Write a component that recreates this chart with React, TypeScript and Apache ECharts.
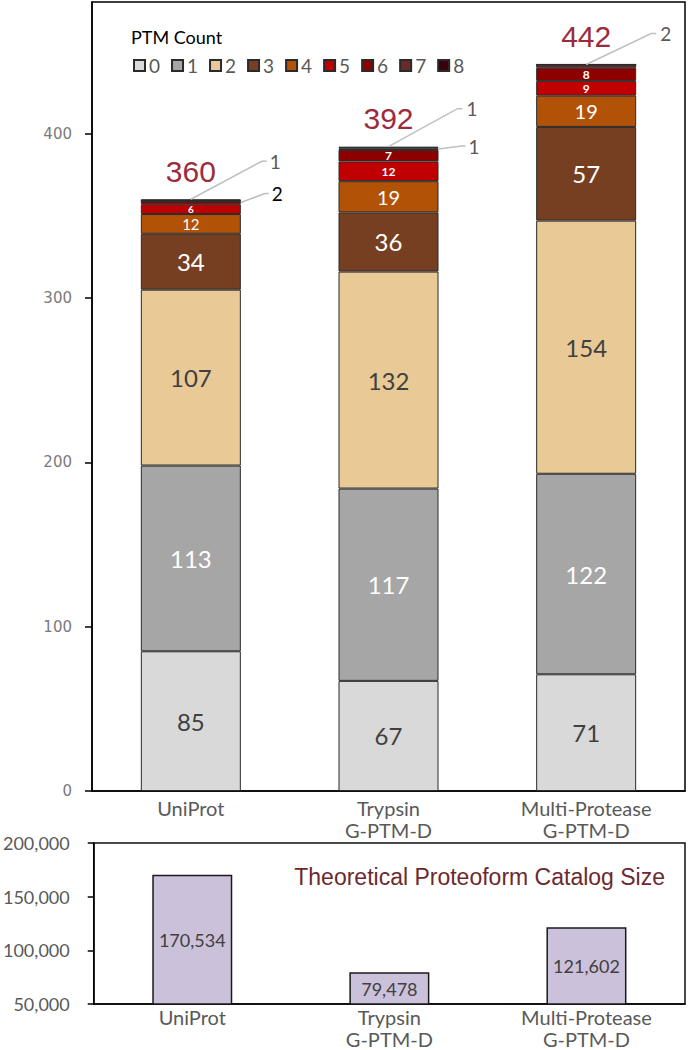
import React, { useEffect, useRef } from 'react';
import * as echarts from 'echarts';

// ---------- data ----------
const categories = ['UniProt', 'Trypsin\nG-PTM-D', 'Multi-Protease\nG-PTM-D'];
const ptmLevels = ['0', '1', '2', '3', '4', '5', '6', '7', '8'];
const ptm0 = [85, 67, 71];
const ptm1 = [113, 117, 122];
const ptm2 = [107, 132, 154];
const ptm3 = [34, 36, 57];
const ptm4 = [12, 19, 19];
const ptm5 = [6, 12, 9];
const ptm6 = [2, 7, 8];
const ptm7 = [0, 1, 2];
const ptm8 = [1, 1, 0];
const ptmValues = [ptm0, ptm1, ptm2, ptm3, ptm4, ptm5, ptm6, ptm7, ptm8];
const totals = [360, 392, 442];
const topTicks = [0, 100, 200, 300, 400];
const catalogSize = [170534, 79478, 121602];
// segments labelled outside the bar with a leader line: [category index], [PTM level]
const calloutCategory = [0, 0, 1, 1, 2];
const calloutLevel = [8, 6, 8, 7, 7];

// ---------- styles ----------
const LEVEL_COLORS = ['#D9D9D9', '#A6A6A6', '#E9C995', '#773F22', '#B15207', '#C00000', '#8E0000', '#6B2A2A', '#3A0010'];
const LABEL_COLORS = ['#404040', '#FFFFFF', '#404040', '#FFFFFF', '#FFFFFF', '#FFFFFF', '#FFFFFF', '#FFFFFF', '#FFFFFF'];
const BAR_W = 100;
const CALLOUT_GEOM = [
  { anchor: 'top', lx: 71, ly: -38, hx: 76, tx: 79, color: '#595959' },
  { anchor: 'right', lx: 24, ly: -9, hx: 28, tx: 31, color: '#000000' },
  { anchor: 'top', lx: 69, ly: -38, hx: 74, tx: 78, color: '#595959' },
  { anchor: 'right', lx: 23, ly: -3, hx: 27, tx: 30, color: '#595959' },
  { anchor: 'top', lx: 65, ly: -31, hx: 70, tx: 74, color: '#595959' },
];

const isCallout = (c: number, l: number) =>
  calloutCategory.some((cc, i) => cc === c && calloutLevel[i] === l);
const labelSize = (l: number, v: number) =>
  l <= 3 ? 24 : l === 4 ? (v >= 15 ? 20 : 15) : v >= 7 ? 12 : 10;
const fmt = (v: number) => v.toLocaleString('en-US');

export default function App() {
  const ref = useRef<HTMLDivElement>(null);
  useEffect(() => {
    if (!ref.current) return;
    const chart = echarts.init(ref.current, undefined, { renderer: 'svg' });

    const ptmSeries = ptmValues.map((vals, l) => ({
      name: ptmLevels[l],
      type: 'bar',
      stack: 'ptm',
      xAxisIndex: 0,
      yAxisIndex: 0,
      barWidth: BAR_W,
      itemStyle: { color: LEVEL_COLORS[l], borderColor: '#2a2a2a', borderWidth: 1 },
      label: {
        show: true,
        position: 'inside',
        color: LABEL_COLORS[l],
        fontFamily: 'Lato',
        fontWeight: l >= 5 ? 'bold' : 'normal',
      },
      data: vals.map((v, c) => ({
        value: v,
        label: {
          show: v > 0 && !isCallout(c, l),
          fontSize: labelSize(l, v),
          lineHeight: labelSize(l, v),
        },
      })),
    }));

    const option: any = {
      animation: false,
      title: [
        {
          text: 'PTM Count',
          left: 131,
          top: 28,
          padding: 0,
          textStyle: { fontFamily: 'Lato', fontSize: 18, fontWeight: 'normal', color: '#000' },
        },
        {
          text: 'Theoretical Proteoform Catalog Size',
          right: 23,
          top: 865,
          padding: 0,
          textStyle: { fontFamily: 'Liberation Sans', fontSize: 23, fontWeight: 'normal', color: '#6B2A2F' },
        },
      ],
      legend: {
        data: ptmLevels,
        left: 133,
        top: 56,
        padding: 0,
        icon: 'rect',
        itemWidth: 11,
        itemHeight: 11,
        itemGap: 11,
        textStyle: { fontFamily: 'Lato', fontSize: 19, color: '#595959', padding: [0, 0, 0, -1] },
      },
      grid: [
        { left: 92, right: 3, top: 2, height: 789, show: true, borderColor: '#000', borderWidth: 1.5 },
        { left: 92, right: 3, top: 843, height: 161, show: true, borderColor: '#111', borderWidth: 1.5 },
      ],
      xAxis: [0, 1].map((g) => ({
        type: 'category',
        gridIndex: g,
        data: categories,
        axisTick: { show: false },
        axisLine: { show: true, lineStyle: { color: '#000', width: 1.5 } },
        axisLabel: {
          fontFamily: 'Lato',
          fontSize: 20,
          lineHeight: 22,
          color: '#595959',
          margin: g === 0 ? 6 : 2,
        },
      })),
      yAxis: [
        {
          type: 'value',
          gridIndex: 0,
          min: 0,
          max: 480,
          splitLine: { show: false },
          axisLine: { show: true, lineStyle: { color: '#000', width: 1.5 } },
          axisTick: { show: true, customValues: topTicks, length: 7, lineStyle: { color: '#000', width: 1.5 } },
          axisLabel: {
            customValues: topTicks,
            fontFamily: 'DejaVu Sans',
            fontSize: 15,
            color: '#7a7a7a',
            margin: 20,
          },
        },
        {
          type: 'value',
          gridIndex: 1,
          min: 50000,
          max: 200000,
          interval: 50000,
          splitLine: { show: false },
          axisLine: { show: true, lineStyle: { color: '#000', width: 1.5 } },
          axisTick: { show: true, length: 6, lineStyle: { color: '#000', width: 1.5 } },
          axisLabel: {
            formatter: (v: number) => fmt(v),
            fontFamily: 'Lato',
            fontSize: 18,
            color: '#595959',
            margin: 24,
          },
        },
      ],
      series: [
        ...ptmSeries,
        {
          name: 'Catalog',
          type: 'bar',
          xAxisIndex: 1,
          yAxisIndex: 1,
          barWidth: 80,
          itemStyle: { color: '#CCC1DA', borderColor: '#1a1a1a', borderWidth: 1.5 },
          label: {
            show: true,
            position: 'inside',
            formatter: (p: any) => fmt(p.value),
            fontFamily: 'Lato',
            fontSize: 18,
            color: '#404040',
          },
          data: catalogSize,
        },
      ],
    };
    chart.setOption(option);

    // totals and leader-line callouts, positioned through the axes' own scales
    const toPx = (c: number, v: number) =>
      chart.convertToPixel({ xAxisIndex: 0, yAxisIndex: 0 }, [c, v]) as number[];
    const graphics: any[] = [];
    totals.forEach((t, c) => {
      const [x, y] = toPx(c, t);
      graphics.push({
        type: 'text',
        x,
        y: y - 28,
        z: 100,
        style: {
          text: String(t),
          fill: '#9C2B3B',
          fontFamily: 'Liberation Sans',
          fontSize: 30,
          align: 'center',
          verticalAlign: 'middle',
        },
      });
    });
    calloutCategory.forEach((c, i) => {
      const l = calloutLevel[i];
      let below = 0;
      for (let k = 0; k < l; k++) below += ptmValues[k][c];
      const v = ptmValues[l][c];
      const g = CALLOUT_GEOM[i];
      const [cx, yTop] = toPx(c, below + v);
      const [, yBot] = toPx(c, below);
      const ax = g.anchor === 'top' ? cx : cx + BAR_W / 2;
      const ay = g.anchor === 'top' ? yTop : (yTop + yBot) / 2;
      graphics.push({
        type: 'polyline',
        z: 100,
        shape: { points: [[ax, ay], [ax + g.lx, ay + g.ly], [ax + g.hx, ay + g.ly]] },
        style: { stroke: '#BFBFBF', lineWidth: 1.5, fill: null },
      });
      graphics.push({
        type: 'text',
        x: ax + g.tx,
        y: ay + g.ly,
        z: 100,
        style: {
          text: String(v),
          fill: g.color,
          fontFamily: 'Lato',
          fontSize: 19,
          align: 'left',
          verticalAlign: 'middle',
        },
      });
    });
    chart.setOption({ graphic: graphics });

    return () => chart.dispose();
  }, []);

  return (
    <div
      ref={ref}
      style={{ position: 'absolute', left: 0, top: 0, width: 688, height: 1050 }}
    />
  );
}
